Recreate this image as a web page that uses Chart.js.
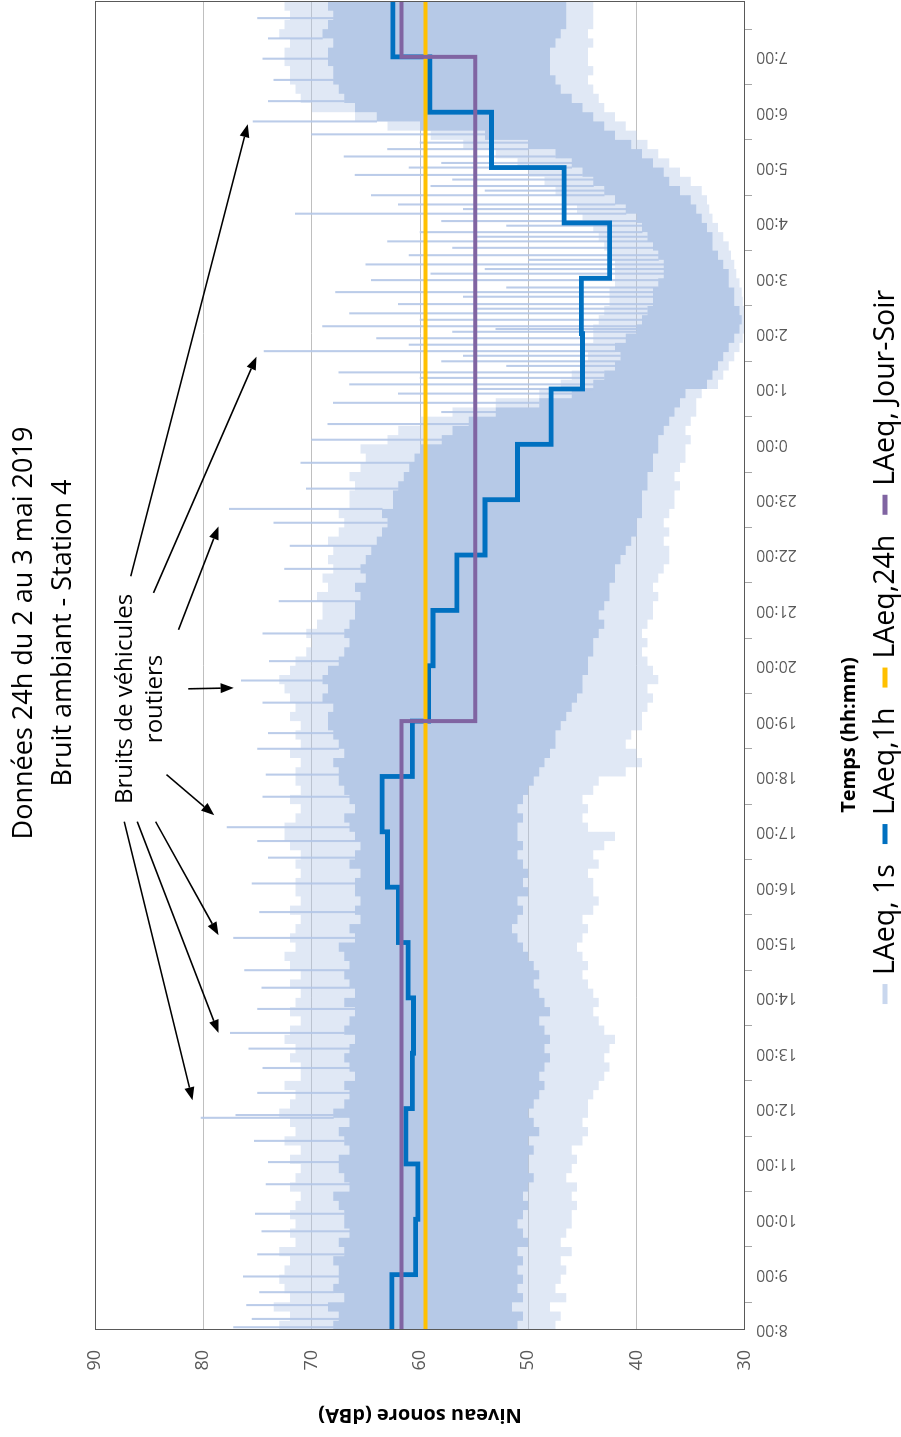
<!DOCTYPE html>
<html lang="fr">
<head>
<meta charset="utf-8">
<title>Bruit ambiant - Station 4</title>
<script src="https://cdn.jsdelivr.net/npm/chart.js@4"></script>
<style>
  html, body { margin: 0; padding: 0; background: #fff; overflow: hidden; }
  /* landscape chart turned a quarter turn so the time axis runs upward */
  #wrap {
    position: absolute; left: 0; top: 0;
    width: 1437px; height: 901px;
    transform-origin: 0 0;
    transform: translate(0, 1437px) rotate(-90deg);
  }
  canvas { display: block; }
</style>
</head>
<body>
<div id="wrap"><canvas id="chart" width="1437" height="901"></canvas></div>
<script>
// ---- hourly axis (24 h starting 8:00) ----
const hourLabels = ['8:00','9:00','10:00','11:00','12:00','13:00','14:00','15:00','16:00','17:00','18:00','19:00',
                    '20:00','21:00','22:00','23:00','0:00','1:00','2:00','3:00','4:00','5:00','6:00','7:00'];
const dbTicks = [30, 40, 50, 60, 70, 80, 90];

// ---- hourly levels (dBA), one value per hour from 8:00 ----
const laeq1h = [62.6, 60.4, 60.2, 61.3, 60.7, 60.6, 61.1, 62.0, 63.0, 63.5, 60.7, 59.2,
                58.8, 56.6, 54.0, 51.0, 47.9, 45.0, 45.1, 42.5, 46.7, 53.4, 59.1, 62.5];
const laeqJourSoir = [61.7, 61.7, 61.7, 61.7, 61.7, 61.7, 61.7, 61.7, 61.7, 61.7, 61.7, 54.9,
                      54.9, 54.9, 54.9, 54.9, 54.9, 54.9, 54.9, 54.9, 54.9, 54.9, 54.9, 61.7];
const laeq24h = 59.5;

// ---- 1 s record, summarised per 10 minutes (6 values per hour, from 8:00) ----
// dense part of the trace
const coreHigh = [
  68, 67.5, 68.5, 67, 68, 67.5,      67.5, 68, 67, 67.5, 66.5, 67,
  67, 67.5, 68, 66.5, 67, 67.5,      67.5, 66.5, 67, 67.5, 66.5, 68,
  67, 66.5, 67, 66, 66.5, 67,        66.5, 66, 67, 66.5, 66, 67,
  66, 66.5, 67, 66.5, 67, 67.5,      66, 66.5, 65.5, 66, 65.5, 66,
  66, 65.5, 66.5, 66, 65.5, 66,      66.5, 67, 66, 66.5, 67, 67.5,
  67.5, 68, 67, 67.5, 68, 68.5,      68.5, 68, 69, 68.5, 69, 68.5,
  67.5, 67, 66.5, 67, 66.5, 66,      66, 65.5, 66, 65, 65.5, 65,
  64.5, 64, 63.5, 63, 63.5, 62.5,    62.5, 62, 61.5, 61, 60.5, 60,
  58, 57, 55.5, 53, 49, 46,          44, 43, 42, 41.5, 42, 41,
  40, 39.5, 39, 38.5, 38.5, 38,      37.5, 37.5, 38, 38.5, 39, 39.5,
  40, 41, 42, 43, 44, 45,            46, 47.5, 50, 54, 60, 64,
  66, 67, 67.5, 68, 68, 68.5,        68.5, 68, 69, 68.5, 68, 68.5
];
const coreLow = [
  51, 50.5, 51.5, 50.5, 51, 50.5,    51, 50.5, 51, 50, 50.5, 51,
  50.5, 50, 50.5, 50, 49.5, 50,      50, 49.5, 50, 49, 49.5, 50,
  49.5, 49, 48.5, 49, 48.5, 48,      48.5, 48, 48.5, 49, 48, 48.5,
  49, 49.5, 49, 49.5, 50, 50.5,      51, 51.5, 51, 50.5, 51, 50,
  50.5, 50, 50.5, 51, 50.5, 51,      51, 50.5, 51, 50.5, 50, 49.5,
  49, 48.5, 48, 47.5, 47.5, 47,      46.5, 46, 45.5, 45, 45, 44.5,
  44.5, 44, 44, 43.5, 43, 43.5,      43, 42.5, 42.5, 42, 42, 41.5,
  41, 40.5, 40, 40, 39.5, 39.5,      39.5, 39, 39, 38.5, 38.5, 38,
  38, 37.5, 37, 36.5, 36, 35.5,      33.5, 33, 32.5, 32, 31.5, 31,
  30.5, 30.3, 30.5, 31, 31, 31.5,    31.5, 32, 32.5, 33, 33, 33.5,
  34, 34.5, 35, 36, 37, 37.5,        38.5, 39.5, 40.5, 42, 43, 44,
  45, 46, 47, 47.5, 48, 48,          48, 47.5, 47, 46.5, 46.5, 46.5
];
// lighter fringe of the trace
const fringeHigh = [
  73, 72, 73.5, 72, 72.5, 73,        72.5, 72, 73, 71.5, 72, 71.5,
  72, 71.5, 71, 72, 71.5, 71,        72, 71, 72.5, 71.5, 72, 73,
  72, 71.5, 72.5, 71, 71, 72,        71.5, 72.5, 72, 71, 72, 71.5,
  71, 72, 71, 72, 72.5, 71.5,        72, 71.5, 71, 72, 71, 71.5,
  71.5, 71, 71.5, 71, 72, 72.5,      72.5, 71.5, 71, 72, 71, 71.5,
  71.5, 71, 72, 71, 71.5, 71,        72, 71.5, 72, 72.5, 73, 72,
  71.5, 70.5, 70, 70.5, 69.5, 69,    69, 69.5, 68.5, 69, 68, 68.5,
  68, 68.5, 67.5, 67, 67.5, 66.5,    66.5, 66, 66.5, 65.5, 65, 65.5,
  63, 62, 60, 57, 53, 49,            47, 46, 45, 44.5, 45, 44,
  44, 43.5, 43, 42.5, 42.5, 42,      42, 42, 42.5, 43, 43.5, 44,
  45, 45.5, 46.5, 47.5, 48.5, 50,    51, 53, 56, 59, 63, 66,
  70, 71, 71.5, 72, 72, 72.5,        72.5, 72, 73, 72.5, 72, 72.5
];
const fringeLow = [
  47.5, 47, 48, 46.5, 47.5, 47,      46.5, 47, 46, 47, 46.5, 46,
  46, 45.5, 46, 45.5, 46.5, 46,      45.5, 46, 45, 44.5, 45, 44.5,
  44.5, 44, 43.5, 43, 42.5, 43,      42.5, 42, 43, 43.5, 44, 43.5,
  44, 44.5, 45, 44.5, 45, 45.5,      45, 44.5, 45, 44, 43.5, 44,
  44, 44.5, 43.5, 44, 43, 42,        44.5, 45, 44.5, 45, 44, 43.5,
  41, 39.5, 40, 41, 40.5, 39.5,      39.5, 39, 38.5, 39, 38, 38.5,
  39, 39.5, 39, 39.5, 39, 38.5,      38.5, 38, 38.5, 38, 37.5, 37,
  37, 37.5, 37, 37.5, 37, 36.5,      36.5, 36, 36.5, 36, 35.5, 35.5,
  35, 35.5, 35, 34.5, 34.5, 34,      32.5, 32, 31.5, 31, 30.5, 30.2,
  30, 30, 30, 30.2, 30.3, 30.5,      30.8, 31, 31.3, 31.5, 32, 32.5,
  33, 33.3, 33.5, 34, 35, 36,        37, 38, 39, 40, 41, 42,
  43, 43.5, 44, 44.5, 44, 44.5,      44.5, 44, 44.5, 44, 44, 44
];
// isolated 1 s peaks (clock time, dBA)
const spikeTimes = ['8:03','8:12','8:27','8:41','8:58','9:22','9:47','10:06','10:38','11:02','11:25','11:50','11:53',
  '12:17','12:44','13:05','13:22','13:48','14:11','14:30','15:05','15:33','16:04','16:32','16:50','17:05','17:38',
  '18:02','18:30','18:47','19:20','19:44','20:05','20:35','21:10','21:45','22:10','22:35','22:50','23:12','23:40',
  '0:05','0:22','0:45','0:55','1:05','1:12','1:18','1:30','1:41','1:48','1:55','2:02','2:08','2:15','2:22','2:32',
  '2:40','2:45','2:58','3:05','3:15','3:25','3:33','3:40','3:50','4:02','4:10','4:20','4:30','4:40','4:52','5:00',
  '5:12','5:20','5:36','5:50','6:12','6:35','6:58','7:20','7:42',
  '0:35','1:00','1:25','1:36','2:05','2:27','2:50','3:10','3:20','3:45','3:57','4:15','4:35','4:47','5:05','5:27'];
const spikePeaks = [77.2, 75.5, 76.0, 74.8, 76.3, 75.0, 74.6, 75.2, 74.2, 74.0, 75.3, 80.2, 77.0,
  75.0, 74.5, 75.8, 77.5, 75.0, 74.6, 76.2, 77.2, 74.8, 75.5, 74.0, 75.0, 77.8, 74.5,
  74.2, 75.0, 74.0, 74.5, 76.5, 73.9, 74.5, 73.0, 72.5, 72.0, 73.5, 77.6, 70.5, 71.0,
  70.0, 68.5, 68.0, 62.0, 66.5, 60.0, 67.5, 58.0, 74.4, 61.0, 64.0, 57.0, 69.0, 60.0, 66.5, 62.0,
  56.0, 67.8, 64.5, 59.0, 65.0, 61.0, 57.0, 63.0, 60.0, 58.0, 71.5, 62.0, 64.5, 59.0, 66.0, 61.0,
  67.0, 63.0, 70.0, 75.4, 74.0, 73.5, 74.5, 74.0, 75.0,
  58.0, 55.0, 52.0, 56.0, 53.0, 55.0, 52.0, 54.0, 50.0, 55.0, 52.0, 56.0, 54.0, 57.0, 58.0, 60.0];

// ---- annotation arrows: [from time, from dBA, to time, to dBA] ----
const arrows = [
  ['17:11', 87.3, '12:09', 81.0],
  ['17:11', 86.1, '13:22', 78.6],
  ['17:11', 84.4, '15:08', 78.6],
  ['18:02', 83.4, '17:18', 79.0],
  ['19:35', 81.4, '19:36', 77.2],
  ['20:39', 82.3, '22:31', 78.6],
  ['21:19', 84.6, '1:35', 75.1],
  ['21:37', 86.7, '5:47', 75.9]
];
const noteLines = ['Bruits de véhicules', 'routiers'];
const titleLines = ['Données 24h du 2 au 3 mai 2019', 'Bruit ambiant - Station 4'];

// hours elapsed since 8:00
const sinceStart = s => { const [h, m] = s.split(':').map(Number); return (h + m / 60 - 8 + 24) % 24; };
// stepped series: one point per interval plus closing point at 24 h
const steps = arr => arr.map((v, i) => ({ x: i * 24 / arr.length, y: v }))
                        .concat([{ x: 24, y: arr[arr.length - 1] }]);

const spikeData = spikeTimes.map((s, i) => {
  const t = sinceStart(s);
  const base = coreHigh[Math.min(coreHigh.length - 1, Math.floor(t * 6))];
  return { x: t, y: [Math.min(base, spikePeaks[i]), spikePeaks[i]] };
});

const FONT = '"Open Sans", "DejaVu Sans", sans-serif';
Chart.defaults.font.family = FONT;

// each value holds until the next point
const hidden = { borderColor: 'transparent', borderWidth: 0, pointRadius: 0, stepped: 'before' };

const decorations = {
  id: 'decorations',
  afterDatasetsDraw(chart) {
    const { ctx, chartArea: a, scales: { x, y } } = chart;
    ctx.save();
    // plot frame
    ctx.strokeStyle = '#595959';
    ctx.lineWidth = 1;
    ctx.strokeRect(Math.round(a.left) + 0.5, Math.round(a.top) + 0.5,
                   Math.round(a.right - a.left) - 1, Math.round(a.bottom - a.top) - 1);
    // arrows
    ctx.strokeStyle = '#000'; ctx.fillStyle = '#000'; ctx.lineWidth = 1.6;
    arrows.forEach(([t0, v0, t1, v1]) => {
      const x0 = x.getPixelForValue(sinceStart(t0)), y0 = y.getPixelForValue(v0);
      const x1 = x.getPixelForValue(sinceStart(t1)), y1 = y.getPixelForValue(v1);
      const ang = Math.atan2(y1 - y0, x1 - x0), L = 13, W = 5;
      const bx = x1 - L * Math.cos(ang), by = y1 - L * Math.sin(ang);
      ctx.beginPath(); ctx.moveTo(x0, y0); ctx.lineTo(bx, by); ctx.stroke();
      ctx.beginPath();
      ctx.moveTo(x1, y1);
      ctx.lineTo(bx + W * Math.sin(ang), by - W * Math.cos(ang));
      ctx.lineTo(bx - W * Math.sin(ang), by + W * Math.cos(ang));
      ctx.closePath(); ctx.fill();
    });
    // note text
    ctx.font = '24px ' + FONT;
    ctx.textAlign = 'center'; ctx.textBaseline = 'middle';
    ctx.fillText(noteLines[0], 738, 125);
    ctx.fillText(noteLines[1], 738, 155);
    ctx.restore();
  },
  afterDraw(chart) {
    const { ctx } = chart;
    ctx.save();
    ctx.fillStyle = '#000';
    ctx.textAlign = 'center'; ctx.textBaseline = 'middle';
    // title
    ctx.font = '27px ' + FONT;
    ctx.fillText(titleLines[0], 804, 24);
    ctx.fillText(titleLines[1], 804, 63);
    // time axis title
    ctx.font = 'bold 20px ' + FONT;
    ctx.fillText('Temps (hh:mm)', 702, 849);
    // legend
    const items = chart.data.datasets.filter(d => d.legendColor);
    ctx.font = '28.5px ' + FONT;
    const sym = 20, gapS = 9, gapI = 20, cy = 885;
    const widths = items.map(d => ctx.measureText(d.label).width);
    const total = widths.reduce((s, w) => s + sym + gapS + w, 0) + gapI * (items.length - 1);
    let cx = 790 - total / 2;
    ctx.textAlign = 'left';
    items.forEach((d, i) => {
      ctx.fillStyle = d.legendColor;
      ctx.fillRect(cx, cy - 2.5, sym, 5);
      ctx.fillStyle = '#000';
      ctx.fillText(d.label, cx + sym + gapS, cy + 1);
      cx += sym + gapS + widths[i] + gapI;
    });
    ctx.restore();
  }
};

new Chart(document.getElementById('chart'), {
  type: 'line',
  data: {
    datasets: [
      { label: 'frange haute', data: steps(fringeHigh), fill: '+1',
        backgroundColor: 'rgba(180,199,231,0.42)', order: 7, ...hidden },
      { label: 'frange basse', data: steps(fringeLow), fill: false, order: 6, ...hidden },
      { label: 'LAeq, 1s', data: steps(coreHigh), fill: '+1', legendColor: '#c9d7ee',
        backgroundColor: '#b6c9e7', order: 5, ...hidden },
      { label: 'LAeq, 1s bas', data: steps(coreLow), fill: false, order: 4, ...hidden },
      { type: 'bar', label: 'pics', data: spikeData, backgroundColor: 'rgba(180,199,231,0.9)',
        barThickness: 1.4, grouped: false, borderWidth: 0, order: 3 },
      { label: 'LAeq,1h', data: steps(laeq1h), legendColor: '#0070c0', borderColor: '#0070c0',
        borderWidth: 4.8, pointRadius: 0, stepped: 'before', fill: false, order: 2,
        borderJoinStyle: 'miter', borderCapStyle: 'butt' },
      { label: 'LAeq,24h', data: [{ x: 0, y: laeq24h }, { x: 24, y: laeq24h }], legendColor: '#ffc000',
        borderColor: '#ffc000', borderWidth: 4, pointRadius: 0, fill: false, order: 1 },
      { label: 'LAeq, Jour-Soir', data: steps(laeqJourSoir), legendColor: '#8064a2', borderColor: '#8064a2',
        borderWidth: 4, pointRadius: 0, stepped: 'before', fill: false, order: 0,
        borderJoinStyle: 'miter', borderCapStyle: 'butt' }
    ]
  },
  options: {
    responsive: false,
    animation: false,
    events: [],
    layout: { padding: { top: 95, right: 1.5, left: 0, bottom: 0 } },
    plugins: { legend: { display: false }, title: { display: false }, tooltip: { enabled: false } },
    scales: {
      x: {
        type: 'linear', min: 0, max: 24, offset: false,
        afterBuildTicks: s => { s.ticks = hourLabels.map((l, i) => ({ value: i })); },
        afterFit: s => { s.height = 156; },
        ticks: { callback: (v, i) => hourLabels[i], maxRotation: 90, minRotation: 90,
                 autoSkip: false, padding: 4, color: '#595959', font: { size: 16 } },
        grid: { drawOnChartArea: false, drawTicks: true, tickLength: 7, tickColor: '#a6a6a6' },
        border: { display: false }
      },
      y: {
        type: 'linear', min: 30, max: 90,
        afterBuildTicks: s => { s.ticks = dbTicks.map(v => ({ value: v })); },
        afterFit: s => { s.width = 107; },
        ticks: { padding: 20, color: '#595959', font: { size: 18 } },
        grid: { drawTicks: false, color: c => (c.tick && (c.tick.value === 30 || c.tick.value === 90)) ? 'transparent' : '#bfbfbf' },
        border: { display: false },
        title: { display: true, text: 'Niveau sonore (dBA)', color: '#000',
                 font: { size: 20, weight: 'bold' }, padding: { top: 10, bottom: 0 } }
      }
    }
  },
  plugins: [decorations]
});
</script>
</body>
</html>
